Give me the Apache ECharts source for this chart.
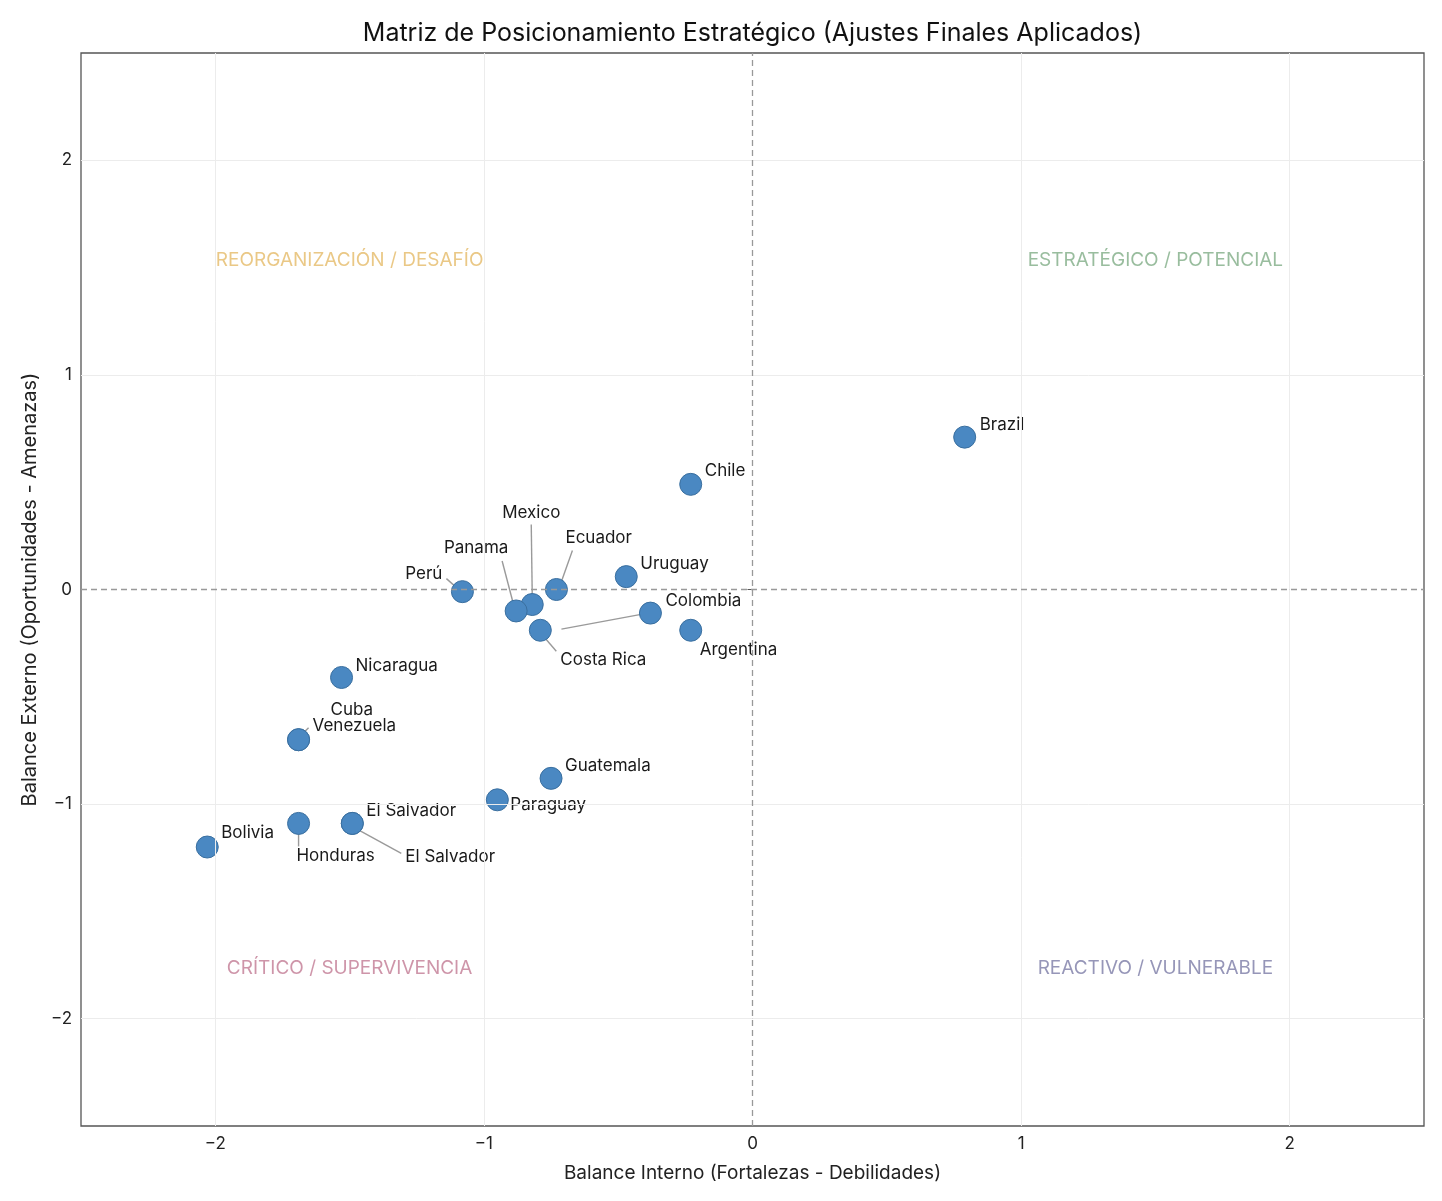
<!DOCTYPE html>
<html>
<head>
<meta charset="utf-8">
<script src="https://cdn.jsdelivr.net/npm/echarts@6/dist/echarts.min.js"></script>
<style>
  html, body { margin: 0; padding: 0; background: #2a2a2a; }
  #frame { position: absolute; left: 2px; top: 3px; width: 1440px; height: 1198px; background: #fff; }
  #main { position: absolute; left: -2px; top: -3px; width: 1442px; height: 1201px; }
</style>
</head>
<body>
<div id="frame"><div id="main"></div></div>
<script>
// country points (Balance Interno, Balance Externo)
var countries = ["Brazil", "Chile", "Uruguay", "Ecuador", "Mexico", "Panama", "Perú", "Colombia",
  "Argentina", "Costa Rica", "Nicaragua", "Cuba", "Venezuela", "Guatemala", "Paraguay",
  "El Salvador", "El Salvador", "Honduras", "Bolivia"];
var internos = [0.79, -0.23, -0.47, -0.73, -0.82, -0.88, -1.08, -0.38,
  -0.23, -0.79, -1.53, -1.69, -1.69, -0.75, -0.95,
  -1.49, -1.49, -1.69, -2.03];
var externos = [0.71, 0.49, 0.06, 0.00, -0.07, -0.10, -0.01, -0.11,
  -0.19, -0.19, -0.41, -0.70, -0.70, -0.88, -0.98,
  -1.09, -1.09, -1.09, -1.20];

var ticks = [-2, -1, 0, 1, 2];

var quadNames = ["REORGANIZACIÓN / DESAFÍO", "ESTRATÉGICO / POTENCIAL", "CRÍTICO / SUPERVIVENCIA", "REACTIVO / VULNERABLE"];
var quadX = [-1.5, 1.5, -1.5, 1.5];
var quadY = [1.535, 1.535, -1.763, -1.763];
var quadColors = ["#e5ba68", "#7fad86", "#c27a93", "#7c7ca6"];

// label placement (pixel offsets from the point), and leader lines [x1,y1,x2,y2] relative to point
var labelStyle = {
  "Brazil":   { align: "left", dx: 15, dy: -12 },
  "Chile":    { align: "left", dx: 14, dy: -13 },
  "Uruguay":  { align: "left", dx: 14, dy: -13 },
  "Ecuador":  { align: "left", dx: 9, dy: -52, line: [16, -39, 5, -8] },
  "Mexico":   { align: "center", dx: -1, dy: -92, line: [-1, -80, 0, -8] },
  "Panama":   { align: "center", dx: -40, dy: -63, line: [-14, -50, -3, -8] },
  "Perú":     { align: "right", dx: -20, dy: -18, line: [-16, -13, -7, -5] },
  "Colombia": { align: "left", dx: 15, dy: -12, line: [-8, 1, -89, 16] },
  "Argentina":{ align: "left", dx: 9, dy: 20 },
  "Costa Rica":{ align: "left", dx: 20, dy: 30, line: [4, 7, 16, 21] },
  "Nicaragua":{ align: "left", dx: 14, dy: -12 },
  "Cuba":     { align: "left", dx: 32, dy: -30 },
  "Venezuela":{ align: "left", dx: 14, dy: -14, line: [5, -7, 10, -12] },
  "Guatemala":{ align: "left", dx: 14, dy: -12 },
  "Paraguay": { align: "left", dx: 13, dy: 5 },
  "El Salvador#15": { align: "left", dx: 14, dy: -13 },
  "El Salvador#16": { align: "left", dx: 53, dy: 33, line: [7, 7, 49, 30] },
  "Honduras": { align: "center", dx: 37, dy: 32, line: [0, 9, 0, 23] },
  "Bolivia":  { align: "left", dx: 14, dy: -14 }
};

function styleFor(i) {
  return labelStyle[countries[i] + "#" + i] || labelStyle[countries[i]];
}

function minus(v) { return String(v).replace("-", "\u2212"); }

var FONT = "Inter, 'Noto Sans', sans-serif";

var pointData = countries.map(function (c, i) {
  var s = styleFor(i);
  return {
    value: [internos[i], externos[i]],
    name: c,
    label: { position: "inside", align: s.align, verticalAlign: "middle", offset: [s.dx, s.dy] }
  };
});

var quadData = quadNames.map(function (q, i) {
  return {
    value: [quadX[i], quadY[i]],
    label: { show: true, formatter: q, color: quadColors[i] }
  };
});

var gridLines = ticks.filter(function (t) { return t !== 0; }).map(function (t) { return { xAxis: t }; })
  .concat(ticks.filter(function (t) { return t !== 0; }).map(function (t) { return { yAxis: t }; }));

function axisCfg(name, gap, nameSize) {
  return {
    type: "value", min: -2.5, max: 2.5, interval: 0.5,
    name: name,
    nameLocation: "middle", nameGap: gap,
    nameTextStyle: { fontFamily: FONT, fontSize: nameSize, color: "#222" },
    axisLine: { show: false },
    axisTick: { show: true, length: 5, customValues: ticks, lineStyle: { color: "#555" } },
    axisLabel: {
      fontFamily: FONT, fontSize: 17, color: "#222", margin: 9,
      customValues: ticks,
      formatter: function (v) { return minus(v); }
    },
    splitLine: { show: false }
  };
}

var chart = echarts.init(document.getElementById("main"));
var option = {
  backgroundColor: "#fff",
  animation: false,
  graphic: [],
  grid: { left: 81, right: 18, top: 53, bottom: 75, show: true, borderColor: "#555", borderWidth: 1.3, backgroundColor: "transparent" },
  xAxis: axisCfg("Balance Interno (Fortalezas - Debilidades)", 38, 19),
  yAxis: axisCfg("Balance Externo (Oportunidades - Amenazas)", 41, 20),
  series: [
    {
      type: "scatter",
      data: [],
      silent: true,
      markLine: {
        silent: true, symbol: "none", label: { show: false },
        lineStyle: { color: "#ececec", type: "solid", width: 1 },
        data: gridLines
      },
      z: 0
    },
    {
      type: "scatter",
      data: quadData,
      symbolSize: 0,
      silent: true,
      label: { show: true, position: "inside", fontFamily: FONT, fontSize: 19 },
      markLine: {
        silent: true, symbol: "none", label: { show: false },
        lineStyle: { color: "#999", type: [6, 4], width: 1.3 },
        data: [{ xAxis: 0 }, { yAxis: 0 }]
      },
      z: 1
    },
    {
      type: "scatter",
      data: pointData,
      symbolSize: 22,
      itemStyle: { color: "#4a88c2", borderColor: "#3a6f9f", borderWidth: 1, opacity: 1 },
      label: { show: true, formatter: "{b}", fontFamily: FONT, fontSize: 17, color: "#1a1a1a" },
      z: 3
    }
  ]
};
chart.setOption(option);

// title centred over the plot area, and leader lines from labels to their points
var gridRect = chart.getModel().getComponent("grid", 0).coordinateSystem.getRect();
var graphics = [{
  type: "text", silent: true,
  x: gridRect.x + gridRect.width / 2, y: 33,
  style: {
    text: "Matriz de Posicionamiento Estratégico (Ajustes Finales Aplicados)",
    fontFamily: FONT, fontSize: 25, fill: "#111", align: "center", verticalAlign: "middle"
  }
}];
countries.forEach(function (c, i) {
  var s = styleFor(i);
  if (!s.line) return;
  var p = chart.convertToPixel({ gridIndex: 0 }, [internos[i], externos[i]]);
  graphics.push({
    type: "line", silent: true, z: 2,
    shape: { x1: p[0] + s.line[0], y1: p[1] + s.line[1], x2: p[0] + s.line[2], y2: p[1] + s.line[3] },
    style: { stroke: "#9a9a9a", lineWidth: 1.4 }
  });
});
chart.setOption({ graphic: graphics });
</script>
</body>
</html>
